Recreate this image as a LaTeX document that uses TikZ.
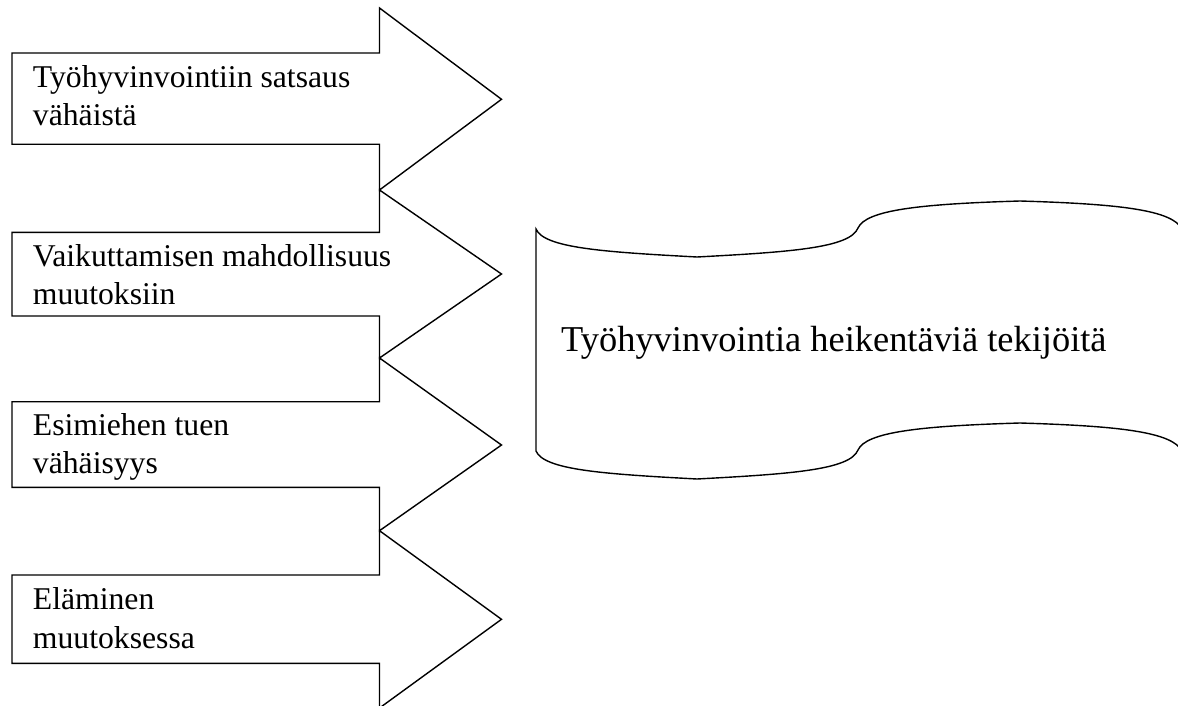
\documentclass[tikz,border=0pt]{standalone}
\usepackage{fontspec}
\setmainfont{Liberation Serif}
\begin{document}
\begin{tikzpicture}[x=1pt,y=-1pt,
  shapeline/.style={draw=black,line width=1.4pt,line join=miter,fill=white},
  smalltext/.style={anchor=base west,inner sep=0pt,font=\fontsize{31.7}{38.5}\selectfont},
  bigtext/.style={anchor=base west,inner sep=0pt,font=\fontsize{36.4}{44}\selectfont}]
\useasboundingbox (0,0) rectangle (1178,706);
\clip (0,0) rectangle (1178,706);
\fill[white] (0,0) rectangle (1178,706);
% arrows: head top, body top, tip y, body bottom, head bottom
\newcommand\myarrow[5]{%
  \draw[shapeline] (12,#2) -- (379.5,#2) -- (379.5,#1) -- (501.5,#3) -- (379.5,#5) -- (379.5,#4) -- (12,#4) -- cycle;}
\myarrow{8}{53}{99.3}{144.3}{190}
\myarrow{190}{232.3}{274}{316}{358}
\myarrow{358}{401.7}{445}{487.3}{530.7}
\myarrow{530.7}{575}{619.3}{663.3}{708}
\node[smalltext] (a1) at (32.7,87.3) {\vtop{\hbox{Työhyvinvointiin satsaus}\hbox{vähäistä}}};
\node[smalltext] (a2) at (32.7,266) {\vtop{\hbox{Vaikuttamisen mahdollisuus}\hbox{muutoksiin}}};
\node[smalltext] (a3) at (32.7,435) {\vtop{\hbox{Esimiehen tuen}\hbox{vähäisyys}}};
\node[smalltext] (a4) at (32.7,609.5) {\vtop{\hbox{Eläminen}\hbox{muutoksessa}}};
% wave shape
\draw[shapeline] (536,229)
  .. controls (544,248) and (604,252) .. (697,257)
  .. controls (790,252) and (850,248) .. (858,228)
  .. controls (866,210) and (920,204) .. (1020,201)
  .. controls (1120,204) and (1172,210) .. (1182,229)
  -- (1182,451)
  .. controls (1172,432) and (1120,426) .. (1020,423)
  .. controls (920,426) and (866,432) .. (858,450)
  .. controls (850,470) and (790,474) .. (697,479)
  .. controls (604,474) and (544,470) .. (536,451)
  -- cycle;
\node[bigtext] (factors) at (561,351.7) {Työhyvinvointia heikentäviä tekijöitä};
\end{tikzpicture}
\end{document}
